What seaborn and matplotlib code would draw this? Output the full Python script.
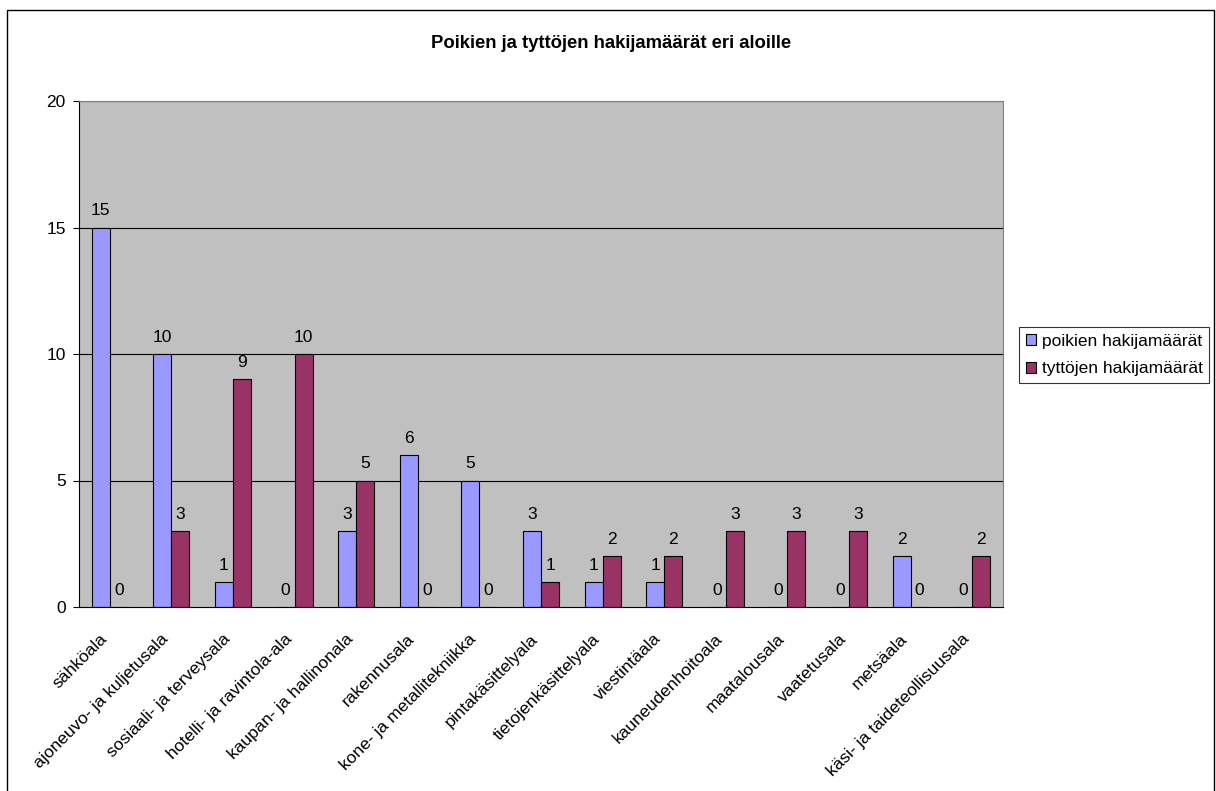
import matplotlib
matplotlib.use("Agg")
import matplotlib.pyplot as plt
import matplotlib.patches as mpatches
import seaborn as sns
import pandas as pd
import numpy as np

categories = ["sähköala", "ajoneuvo- ja kuljetusala", "sosiaali- ja terveysala",
              "hotelli- ja ravintola-ala", "kaupan- ja hallinonala", "rakennusala",
              "kone- ja metallitekniikka", "pintakäsittelyala", "tietojenkäsittelyala",
              "viestintäala", "kauneudenhoitoala", "maatalousala", "vaatetusala",
              "metsäala", "käsi- ja taideteollisuusala"]
boys = [15, 10, 1, 0, 3, 6, 5, 3, 1, 1, 0, 0, 0, 2, 0]
girls = [0, 3, 9, 10, 5, 0, 0, 1, 2, 2, 3, 3, 3, 0, 2]
series_names = ["poikien hakijamäärät", "tyttöjen hakijamäärät"]
title = "Poikien ja tyttöjen hakijamäärät eri aloille"
yticks = [0, 5, 10, 15, 20]

sns.set_theme(style="white")
plt.rcParams['font.family'] = ['Liberation Sans', 'DejaVu Sans']
plt.rcParams['text.color'] = 'black'
plt.rcParams['xtick.color'] = 'black'
plt.rcParams['ytick.color'] = 'black'
plt.rcParams['axes.labelcolor'] = 'black'

FS = 12.5

df = pd.DataFrame({
    "ala": categories * 2,
    "arvo": boys + girls,
    "sarja": [series_names[0]] * len(categories) + [series_names[1]] * len(categories),
})

fig = plt.figure(figsize=(12.16, 7.91), dpi=100)
ax = fig.add_axes([79/1216, 1 - 607/791, (1003-79)/1216, (607-101)/791])
ax.set_facecolor("#C0C0C0")

sns.barplot(data=df, x="ala", y="arvo", hue="sarja", order=categories,
            hue_order=series_names, palette=["#9999FF", "#993366"],
            width=0.585, edgecolor="black", linewidth=0.8, ax=ax,
            legend=False, saturation=1, errorbar=None)

for cont in ax.containers:
    ax.bar_label(cont, labels=[f"{int(v)}" for v in cont.datavalues],
                 padding=6.5, fontsize=FS, color="black")

ax.set_ylim(0, 20)
ax.set_xlim(-0.5, len(categories) - 0.5)
ax.set_yticks(yticks)
ax.set_yticklabels([str(t) for t in yticks], fontsize=FS)
for t in yticks[1:]:
    ax.axhline(t, color="black", lw=0.8, zorder=0.5)
ax.set_axisbelow(True)

ax.set_xticks(range(len(categories)))
ax.set_xticklabels(categories, rotation=45, ha="right", va="bottom",
                   rotation_mode="anchor", fontsize=12.6)
ax.set_xticks(np.arange(-0.5, len(categories), 1.0), minor=True)
ax.tick_params(axis="x", which="major", length=0, pad=25)
ax.tick_params(axis="x", which="minor", length=4.5, width=0.8, color="black", direction="out")
ax.tick_params(axis="y", which="major", length=4.5, width=0.8, color="black", direction="out", left=True, pad=5)
ax.set_xlabel("")
ax.set_ylabel("")

for side in ["left", "bottom"]:
    ax.spines[side].set_color("black")
    ax.spines[side].set_linewidth(0.8)
for side in ["top", "right"]:
    ax.spines[side].set_color("#808080")
    ax.spines[side].set_linewidth(0.8)

fig.text(611/1216, 1 - 43/791, title, ha="center", va="center", fontsize=13.3,
         fontweight="bold", color="black")

handles = [mpatches.Patch(facecolor=c, edgecolor="black", linewidth=0.8) for c in ["#9999FF", "#993366"]]
leg = fig.legend(handles, series_names, loc="upper left",
                 bbox_to_anchor=(1019/1216, 1 - 327/791), fontsize=FS,
                 frameon=True, fancybox=False, shadow=False, handlelength=0.6,
                 handleheight=0.6, handletextpad=0.3, borderpad=0.4, labelspacing=0.72,
                 borderaxespad=0)
leg.get_frame().set_edgecolor("black")
leg.get_frame().set_linewidth(0.8)

border = mpatches.Rectangle((7/1216, -0.05), (1214-7)/1216, 1 - 10/791 + 0.05,
                            transform=fig.transFigure, fill=False, edgecolor="black",
                            linewidth=1.0, clip_on=False)
fig.patches.append(border)

fig.savefig("out.png", dpi=100, facecolor="white")
